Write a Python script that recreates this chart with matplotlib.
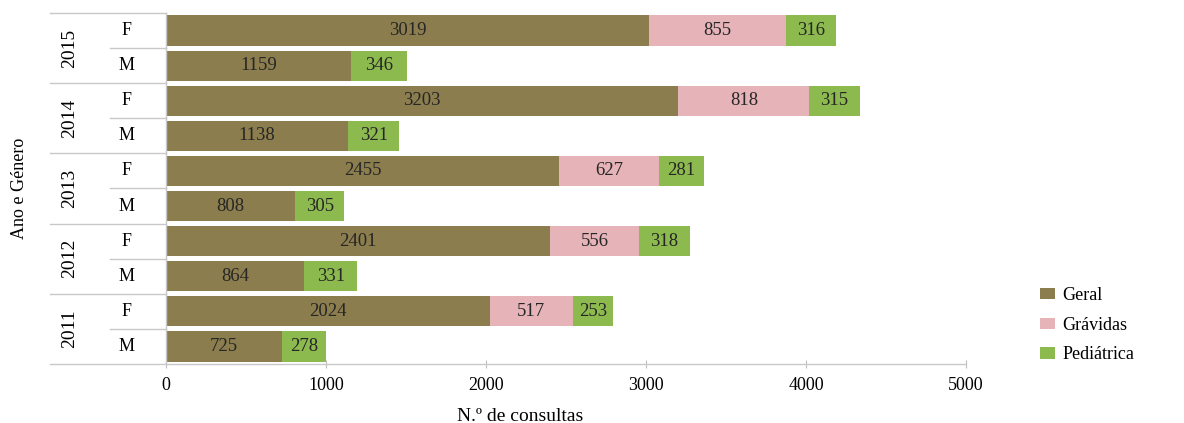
import matplotlib
matplotlib.use("Agg")
import matplotlib.pyplot as plt

plt.rcParams["font.family"] = ["Liberation Serif", "DejaVu Serif"]

# dados
years = ["2015", "2014", "2013", "2012", "2011"]
genders = ["F", "M"]
geral_F = [3019, 3203, 2455, 2401, 2024]
gravidas_F = [855, 818, 627, 556, 517]
ped_F = [316, 315, 281, 318, 253]
geral_M = [1159, 1138, 808, 864, 725]
gravidas_M = [0, 0, 0, 0, 0]
ped_M = [346, 321, 305, 331, 278]

series_names = ["Geral", "Grávidas", "Pediátrica"]
colors = ["#8b7d4e", "#e6b4b8", "#8dba4f"]

# linhas: F, M por ano, de cima para baixo
geral, gravidas, ped, row_gender = [], [], [], []
for i in range(len(years)):
    geral += [geral_F[i], geral_M[i]]
    gravidas += [gravidas_F[i], gravidas_M[i]]
    ped += [ped_F[i], ped_M[i]]
    row_gender += genders
rows = list(range(len(geral)))

fig = plt.figure(figsize=(11.84, 4.23), dpi=100)
ax = fig.add_axes([166 / 1184, 1 - 364 / 423, 800 / 1184, 351 / 423])

left = [0] * len(rows)
for vals, name, col in zip([geral, gravidas, ped], series_names, colors):
    bars = ax.barh(rows, vals, left=left, height=0.86, color=col, label=name)
    for b, v, l in zip(bars, vals, left):
        if v > 0:
            ax.text(l + v / 2, b.get_y() + b.get_height() / 2, str(v),
                    ha="center", va="center", fontsize=13.5, color="#262626")
    left = [a + b for a, b in zip(left, vals)]

ax.set_xlim(0, 5000)
ax.set_ylim(len(rows) - 0.5, -0.5)
ax.set_xticks([0, 1000, 2000, 3000, 4000, 5000])
ax.set_yticks([])
ax.tick_params(axis="x", direction="inout", length=6, color="#bfbfbf",
               labelsize=13, pad=6)
for s in ["top", "right"]:
    ax.spines[s].set_visible(False)
for s in ["left", "bottom"]:
    ax.spines[s].set_color("#c8c8c8")
    ax.spines[s].set_linewidth(1.0)
ax.set_xlabel("N.º de consultas", fontsize=14, labelpad=5)
ax.xaxis.set_label_coords(0.443, -0.125)

# eixo de categorias agrupado
tr = ax.get_yaxis_transform()
for k in range(len(years) + 1):
    y = 2 * k - 0.5
    ax.plot([-0.145, 0], [y, y], transform=tr, color="#c8c8c8", lw=1, clip_on=False)
for k in range(len(years)):
    y = 2 * k + 0.5
    ax.plot([-0.07, 0], [y, y], transform=tr, color="#c8c8c8", lw=1, clip_on=False)
    ax.text(-0.12, 2 * k + 0.5, years[k], transform=tr, rotation=90,
            ha="center", va="center", fontsize=14)
for r, g in zip(rows, row_gender):
    ax.text(-0.049, r, g, transform=tr, ha="center", va="center", fontsize=13)

fig.text(20 / 1184, 1 - 188 / 423, "Ano e Género", rotation=90,
         ha="center", va="center", fontsize=13)

fig.legend(loc="upper left", bbox_to_anchor=(0.865, 0.36), frameon=False,
           fontsize=13, handlelength=0.8, handleheight=0.6, handletextpad=0.4,
           labelspacing=0.7)

fig.savefig("out.png", dpi=100)
